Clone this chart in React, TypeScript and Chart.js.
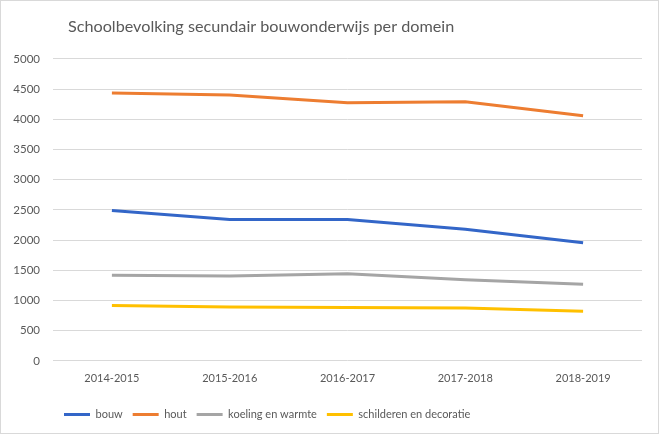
import React, { useEffect, useRef } from "react";
import { Chart, registerables } from "chart.js";

Chart.register(...registerables);

const categories = ["2014-2015", "2015-2016", "2016-2017", "2017-2018", "2018-2019"];
const seriesNames = ["bouw", "hout", "koeling en warmte", "schilderen en decoratie"];
const bouw = [2490, 2340, 2340, 2180, 1955];
const hout = [4435, 4400, 4275, 4290, 4060];
const koeling = [1420, 1405, 1445, 1345, 1270];
const schilderen = [920, 895, 885, 875, 825];
const colors = ["#3366C8", "#ED7D31", "#A5A5A5", "#FFC000"];
const yTicks = [0, 500, 1000, 1500, 2000, 2500, 3000, 3500, 4000, 4500, 5000];
const title = "Schoolbevolking secundair bouwonderwijs per domein";

const FONT = "Lato";
const LEGEND_PAD = 10;

const borderPlugin = {
  id: "outerBorder",
  beforeDraw(chart: any) {
    const ctx = chart.ctx;
    ctx.save();
    ctx.fillStyle = "#ffffff";
    ctx.fillRect(0, 0, chart.width, chart.height);
    ctx.strokeStyle = "#d9d9d9";
    ctx.lineWidth = 1;
    ctx.strokeRect(0.5, 0.5, chart.width - 2, chart.height - 1);
    ctx.restore();
  },
  afterLayout(chart: any) {
    if (chart.titleBlock) chart.titleBlock.left = 68;
    if (chart.legend) chart.legend.left = 64 - LEGEND_PAD;
  },
};

export default function App() {
  const ref = useRef<HTMLCanvasElement>(null);
  useEffect(() => {
    if (!ref.current) return;
    const values = [bouw, hout, koeling, schilderen];
    const chart = new Chart(ref.current, {
      type: "line",
      data: {
        labels: categories,
        datasets: seriesNames.map((name, i) => ({
          label: name,
          data: values[i],
          borderColor: colors[i],
          backgroundColor: colors[i],
          borderWidth: 3,
          pointRadius: 0,
          tension: 0,
          fill: false,
        })),
      },
      options: {
        animation: false,
        responsive: false,
        layout: { padding: { left: 0, right: 18, top: 0, bottom: 4 } },
        plugins: {
          title: {
            display: true,
            text: title,
            align: "start",
            color: "#595959",
            font: { family: "Lato", size: 16.2, weight: "normal" },
            padding: { top: 17, bottom: 22.4 },
          },
          legend: {
            position: "bottom",
            align: "start",
            labels: {
              boxWidth: 26,
              boxHeight: 3,
              padding: LEGEND_PAD,
              color: "#595959",
              font: { family: FONT, size: 11 },
              generateLabels: (c: any) =>
                c.data.datasets.map((d: any, i: number) => ({
                  text: d.label,
                  fillStyle: d.borderColor,
                  strokeStyle: d.borderColor,
                  lineWidth: 0,
                  hidden: false,
                  datasetIndex: i,
                  fontColor: "#595959",
                })),
            },
          },
          tooltip: { enabled: false },
        },
        scales: {
          x: {
            offset: true,
            grid: { display: false, drawTicks: false },
            border: { display: false },
            ticks: {
              color: "#595959",
              font: { family: FONT, size: 11 },
              padding: 11,
              maxRotation: 0,
            },
            afterFit: (s: any) => {
              s.height = 38;
            },
          },
          y: {
            min: 0,
            max: 5000,
            afterBuildTicks: (s: any) => {
              s.ticks = yTicks.map((v) => ({ value: v }));
            },
            grid: { color: "#d9d9d9", lineWidth: 1, drawTicks: false },
            border: { display: false },
            ticks: {
              color: "#595959",
              font: { family: FONT, size: 11.5 },
              padding: 13,
              callback: (v: any) => String(v),
            },
            afterFit: (s: any) => {
              s.width = 53;
            },
          },
        },
      },
      plugins: [borderPlugin],
    });
    return () => chart.destroy();
  }, []);
  return (
    <div style={{ position: "absolute", left: 0, top: 0, width: 660, height: 434 }}>
      <canvas ref={ref} width={660} height={434} style={{ width: 660, height: 434 }} />
    </div>
  );
}
